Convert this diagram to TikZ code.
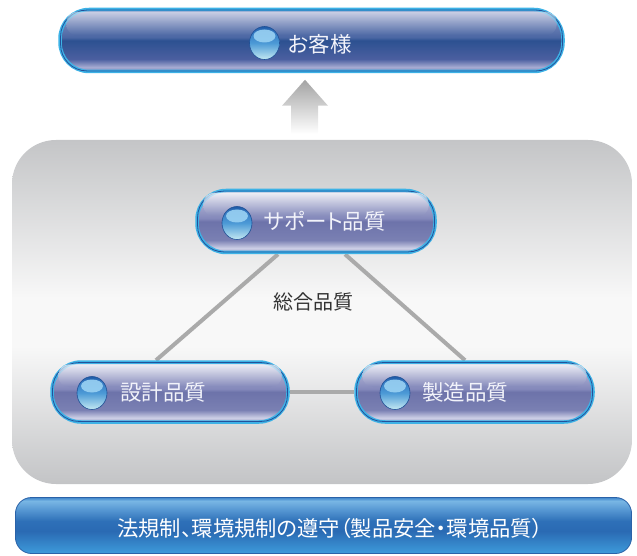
\documentclass[tikz,border=0pt]{standalone}
\usepackage{fontspec}
\setmainfont[RawFeature=+palt]{Noto Sans CJK JP}
\newfontfamily\lawfont[RawFeature=+palt]{Noto Sans CJK JP}
\usetikzlibrary{calc,backgrounds,shapes.geometric}
\definecolor{pillcyan}{HTML}{3DB2E6}
\definecolor{pillrim}{HTML}{23519A}
\definecolor{nv0}{HTML}{9AA3CD}
\definecolor{nv1}{HTML}{4A66A3}
\definecolor{nv2}{HTML}{2C5191}
\definecolor{nv3}{HTML}{4B5FA0}
\definecolor{nv4}{HTML}{A7ACD2}
\definecolor{nv5}{HTML}{7C84B8}
\definecolor{lv0}{HTML}{C9CBE3}
\definecolor{lv1}{HTML}{8388BA}
\definecolor{lv2}{HTML}{6D73AA}
\definecolor{lv3}{HTML}{7A80B3}
\definecolor{lv4}{HTML}{CDCFE6}
\definecolor{lv5}{HTML}{9CA0C8}
\definecolor{ball0}{HTML}{1E5AA6}
\definecolor{ball1}{HTML}{3579C2}
\definecolor{ball2}{HTML}{4C9AD6}
\definecolor{ball3}{HTML}{C4E9F2}
\definecolor{ballrim}{HTML}{1F4F95}
\definecolor{ballhi}{HTML}{9AD2F3}
\definecolor{pn0}{HTML}{C4C5C7}
\definecolor{pn1}{HTML}{F8F8F8}
\definecolor{pn2}{HTML}{C3C4C6}
\definecolor{br0}{HTML}{3F86CB}
\definecolor{br1}{HTML}{79B6E4}
\definecolor{br2}{HTML}{5A9BD5}
\definecolor{br3}{HTML}{2E70B8}
\definecolor{br4}{HTML}{2A6AB3}
\definecolor{br5}{HTML}{3E9BDB}
\definecolor{barrim}{HTML}{2A62A8}
\definecolor{linegray}{HTML}{AAAAAA}
\definecolor{arrowtop}{HTML}{A3A3A3}
\definecolor{labeltext}{HTML}{333333}
\definecolor{pilltextcol}{HTML}{F2F3FA}
\pgfdeclareverticalshading{navypill}{100bp}{color(0bp)=(nv5); color(25bp)=(nv5); color(28.5bp)=(nv4); color(35bp)=(nv3); color(50bp)=(nv2); color(52.5bp)=(nv1); color(75bp)=(nv0); color(100bp)=(nv0)}
\pgfdeclareverticalshading{lavpill}{100bp}{color(0bp)=(lv5); color(25bp)=(lv5); color(28.5bp)=(lv4); color(35bp)=(lv3); color(50bp)=(lv2); color(52.5bp)=(lv1); color(75bp)=(lv0); color(100bp)=(lv0)}
\pgfdeclareverticalshading{ballshade}{100bp}{color(0bp)=(ball3); color(25bp)=(ball3); color(50bp)=(ball2); color(67.5bp)=(ball1); color(75bp)=(ball0); color(100bp)=(ball0)}
\pgfdeclareverticalshading{panelshade}{100bp}{color(0bp)=(pn2); color(25bp)=(pn2); color(45bp)=(pn1); color(52bp)=(pn1); color(75bp)=(pn0); color(100bp)=(pn0)}
\pgfdeclareverticalshading{barshade}{100bp}{color(0bp)=(br5); color(25bp)=(br5); color(45bp)=(br4); color(54bp)=(br3); color(65bp)=(br2); color(72bp)=(br1); color(75bp)=(br0); color(100bp)=(br0)}
\tikzset{
  pillbox/.style={draw=pillcyan, line width=3.5pt, rounded corners=29pt, inner sep=0pt, shade},
  navypillbox/.style={pillbox, shading=navypill},
  lavpillbox/.style={pillbox, shading=lavpill},
  innerrim/.style={draw=pillrim, line width=0.8pt, rounded corners=26.5pt},
  navygloss/.style={top color=white, bottom color=nv1, fill opacity=0.5, rounded corners=11pt},
  lavgloss/.style={top color=white, bottom color=lv1, fill opacity=0.7, rounded corners=11pt},
  ballnode/.style={ellipse, minimum width=30pt, minimum height=33pt, inner sep=0pt, shade, shading=ballshade, draw=ballrim, line width=0.6pt,
    path picture={\fill[ballhi, opacity=0.9] ($(path picture bounding box.center)+(0,7)$) ellipse (11pt and 6.5pt);}},
  pilltext/.style={text=pilltextcol, font=\fontsize{21.5}{22}\selectfont, inner sep=0pt, anchor=west},
  centerlabel/.style={text=labeltext, font=\fontsize{20}{22}\selectfont, inner sep=0pt},
  panelbox/.style={minimum width=620pt, minimum height=344pt, rounded corners=44pt, shade, shading=panelshade, inner sep=0pt},
  lawbox/.style={minimum width=616pt, minimum height=56pt, rounded corners=16pt, shade, shading=barshade, draw=barrim, line width=0.8pt, inner sep=0pt},
  lawtextstyle/.style={text=white, font=\lawfont\fontsize{21.3}{24}\selectfont, inner sep=0pt},
  link/.style={draw=linegray, line width=4pt}
}
\begin{document}
\begin{tikzpicture}[x=1pt,y=1pt]
\useasboundingbox (0,0) rectangle (637,555);

% customer pill
\node[navypillbox, minimum width=503pt, minimum height=62pt] (cust) at (311.5,514.5) {};
\draw[innerrim] ($(cust.south west)+(2.3,2.3)$) rectangle ($(cust.north east)+(-2.3,-2.3)$);
\shade[navygloss] ($(cust.north west)+(8,-4)$) rectangle ($(cust.east)+(-8,5)$);
\node[ballnode] (cust-ball) at (264.5,512) {};
\node[pilltext] (cust-text) at (288,511) {お客様};

% support pill
\node[lavpillbox, minimum width=238pt, minimum height=62pt] (sup) at (316,333.5) {};
\draw[innerrim] ($(sup.south west)+(2.3,2.3)$) rectangle ($(sup.north east)+(-2.3,-2.3)$);
\shade[lavgloss] ($(sup.north west)+(8,-4)$) rectangle ($(sup.east)+(-8,5)$);
\node[ballnode] (sup-ball) at (237,332) {};
\node[pilltext] (sup-text) at (264,334) {サポート品質};

% design pill
\node[lavpillbox, minimum width=236pt, minimum height=60pt] (des) at (170,163) {};
\draw[innerrim] ($(des.south west)+(2.3,2.3)$) rectangle ($(des.north east)+(-2.3,-2.3)$);
\shade[lavgloss] ($(des.north west)+(8,-4)$) rectangle ($(des.east)+(-8,5)$);
\node[ballnode] (des-ball) at (92,162) {};
\node[pilltext] (des-text) at (120,163) {設計品質};

% manufacturing pill
\node[lavpillbox, minimum width=237pt, minimum height=60pt] (mfg) at (474.5,163) {};
\draw[innerrim] ($(mfg.south west)+(2.3,2.3)$) rectangle ($(mfg.north east)+(-2.3,-2.3)$);
\shade[lavgloss] ($(mfg.north west)+(8,-4)$) rectangle ($(mfg.east)+(-8,5)$);
\node[ballnode] (mfg-ball) at (395,162) {};
\node[pilltext] (mfg-text) at (422,163) {製造品質};

\node[centerlabel] (total) at (313,253) {総合品質};

% bottom bar
\node[lawbox] (law) at (323.5,29.5) {};
\node[lawtextstyle] (law-text) at (330,27) {法規制、環境規制の遵守（製品安全・環境品質）};

\begin{pgfonlayer}{background}
  \node[panelbox] (panel) at (322,243) {};
  \draw[link] ($(sup.south)+(-38,0)$) -- ($(des.north)+(-14,0)$);
  \draw[link] ($(sup.south)+(29,0)$) -- ($(mfg.north)+(-9.5,0)$);
  \draw[link] (des.east) -- (mfg.west);
  \coordinate (atip) at ($(cust.south)+(-6.5,-6.5)$);
  \shade[top color=arrowtop, bottom color=white] (atip) -- ++(23,-26) -- ++(-10,0) -- ++(0,-28) -- ++(-27,0) -- ++(0,28) -- ++(-9,0) -- cycle;
\end{pgfonlayer}
\end{tikzpicture}
\end{document}
